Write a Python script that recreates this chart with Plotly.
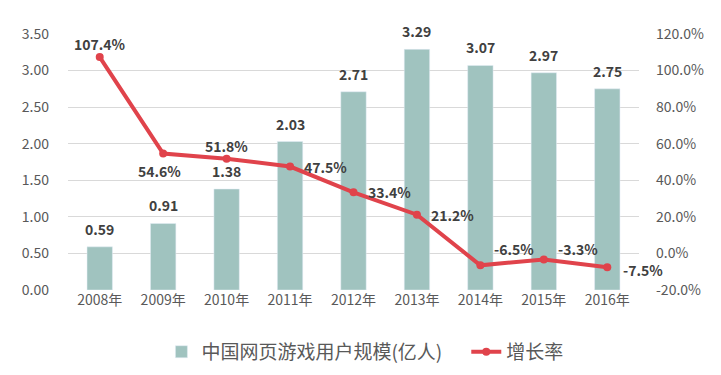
import plotly.graph_objects as go

years = ["2008年", "2009年", "2010年", "2011年", "2012年", "2013年", "2014年", "2015年", "2016年"]
users = [0.59, 0.91, 1.38, 2.03, 2.71, 3.29, 3.07, 2.97, 2.75]
growth = [107.4, 54.6, 51.8, 47.5, 33.4, 21.2, -6.5, -3.3, -7.5]
left_ticks = [0, 0.5, 1.0, 1.5, 2.0, 2.5, 3.0, 3.5]
right_ticks = [-20, 0, 20, 40, 60, 80, 100, 120]

FONT = "Noto Sans CJK SC, Microsoft YaHei, sans-serif"
BAR_C = "#A0C3BF"
LINE_C = "#E0434B"
LAB_C = "#404040"

fig = go.Figure()
fig.add_trace(go.Bar(
    x=years, y=users, name="中国网页游戏用户规模(亿人)　",
    marker_color=BAR_C, cliponaxis=False,
))
fig.add_trace(go.Scatter(
    x=years, y=growth, name="增长率", yaxis="y2", mode="lines+markers",
    line=dict(color=LINE_C, width=4), marker=dict(color=LINE_C, size=8),
))

# bar value labels
for yr, v in zip(years, users):
    fig.add_annotation(x=yr, y=v, yref="y", text=f"{v:.2f}", showarrow=False,
                       yshift=18, yanchor="middle", xanchor="center",
                       font=dict(family=FONT, size=14, color=LAB_C, weight="bold"))

# label offsets (px) for growth-rate labels
offs = [(0, 13, "center"), (-4, -17, "center"), (0, 13, "center"), (12, 0, "left"),
        (12, 0, "left"), (12, 0, "left"), (12, 16, "left"), (12, 10, "left"), (14, -3, "left")]
for yr, g, (dx, dy, al) in zip(years, growth, offs):
    fig.add_annotation(x=yr, y=g, yref="y2", text=f"{g:.1f}%", showarrow=False,
                       xshift=dx, yshift=dy, xanchor=al,
                       font=dict(family=FONT, size=14, color=LAB_C, weight="bold"))

fig.update_layout(
    width=721, height=375, margin=dict(l=60, r=90, t=26, b=93, autoexpand=False),
    paper_bgcolor="white", plot_bgcolor="white",
    bargap=0.6, showlegend=True,
    font=dict(family=FONT, size=14, color="#595959"),
    legend=dict(orientation="h", x=0.52, xanchor="center", yref="container", y=0.083, yanchor="middle",
                font=dict(family=FONT, size=19, color="#595959"),
                traceorder="normal"),
    xaxis=dict(range=[-0.5, 8.5], showgrid=False, showline=False, ticks="",
               tickfont=dict(size=14, color="#595959")),
    yaxis=dict(range=[0, 3.5], tickvals=left_ticks, tickformat=".2f", showgrid=True,
               gridcolor="#D9D9D9", gridwidth=1, zeroline=False, ticklabelstandoff=18,
               tickfont=dict(size=14, color="#595959")),
    yaxis2=dict(range=[-20, 120], tickvals=right_ticks, ticktext=[f"{v:.1f}%" for v in right_ticks],
                overlaying="y", side="right", showgrid=False, zeroline=False, ticklabelstandoff=16,
                tickfont=dict(size=14, color="#595959")),
)
fig.write_html("out.html")
